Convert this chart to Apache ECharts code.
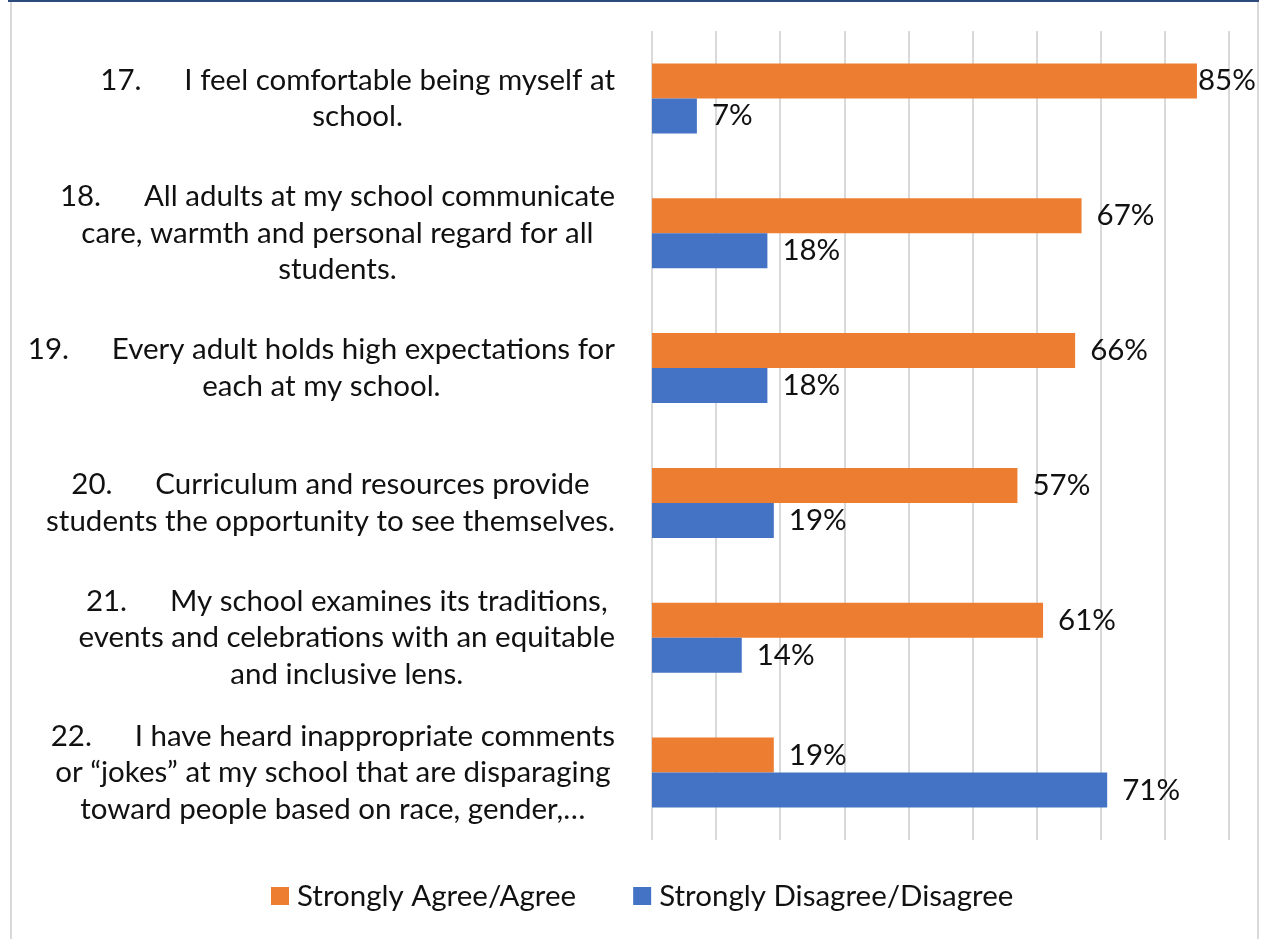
<!DOCTYPE html>
<html>
<head>
<meta charset="utf-8">
<script src="https://cdn.jsdelivr.net/npm/echarts@6/dist/echarts.min.js"></script>
<style>
html,body{margin:0;padding:0;background:#fff;}
#wrap{position:relative;width:1262px;height:939px;overflow:hidden;}
#chart{position:absolute;left:0;top:0;width:1262px;height:939px;}
.b{position:absolute;}
</style>
</head>
<body>
<div id="wrap">
<div id="chart"></div>
<div class="b" style="left:10px;top:0;width:2px;height:939px;background:#d9d9d9;"></div>
<div class="b" style="left:1257px;top:0;width:2px;height:939px;background:#d9d9d9;"></div>
<div class="b" style="left:8px;top:0;width:1251px;height:2px;background:#2f4b7c;"></div>
</div>
<script>
const categories = [
  "17.\tI feel comfortable being myself at\nschool.",
  "18.\tAll adults at my school communicate\ncare, warmth and personal regard for all\nstudents.",
  "19.\tEvery adult holds high expectations for\neach at my school.",
  "20.\tCurriculum and resources provide\nstudents the opportunity to see themselves.",
  "21.\tMy school examines its traditions,\nevents and celebrations with an equitable\nand inclusive lens.",
  "22.\tI have heard inappropriate comments\nor \u201cjokes\u201d at my school that are disparaging\ntoward people based on race, gender,\u2026"
];
const seriesNames = ["Strongly Agree/Agree", "Strongly Disagree/Disagree"];
const agree = [85, 67, 66, 57, 61, 19];
const disagree = [7, 18, 18, 19, 14, 71];

const FONT = "Lato";
const FS = 29.5;
const TAB = 84;

const mctx = document.createElement('canvas').getContext('2d');
mctx.font = FS + 'px ' + FONT;
const numPad = Math.max(0, TAB - mctx.measureText('17.').width);

function labelData(vals) {
  return vals.map(v => ({
    value: v,
    label: v >= 80 ? { distance: 1 } : {}
  }));
}

function fmtCat(v) {
  return v.split('\n').map(l => {
    const parts = l.split('\t');
    if (parts.length === 2) return '{n|' + parts[0] + '}{c|' + parts[1] + '}';
    return '{c|' + l + '}';
  }).join('\n');
}

const chart = echarts.init(document.getElementById('chart'), null, { renderer: 'canvas' });
chart.setOption({
  animation: false,
  backgroundColor: 'transparent',
  color: ['#ED7D31', '#4472C4'],
  grid: { left: 652, right: 33, top: 31, bottom: 99, containLabel: false },
  xAxis: {
    type: 'value', min: 0, max: 90, interval: 10,
    axisLabel: { show: false }, axisLine: { show: false }, axisTick: { show: false },
    splitLine: { show: true, lineStyle: { color: '#d9d9d9', width: 2 } }
  },
  yAxis: {
    type: 'category', data: categories, inverse: true,
    axisLine: { show: false }, axisTick: { show: false },
    axisLabel: {
      margin: 37, align: 'right', color: '#111',
      fontFamily: FONT, fontSize: FS, lineHeight: 36.5,
      formatter: fmtCat,
      rich: {
        c: { align: 'center', fontFamily: FONT, fontSize: FS, lineHeight: 36.5, color: '#111' },
        n: { align: 'center', fontFamily: FONT, fontSize: FS, lineHeight: 36.5, color: '#111', padding: [0, numPad, 0, 0] }
      }
    }
  },
  legend: {
    left: 271, top: 881, padding: 0,
    itemWidth: 18, itemHeight: 18, itemGap: 57, icon: 'rect',
    textStyle: { fontFamily: FONT, fontSize: FS, color: '#111', padding: [0, 0, 0, 3] },
    data: seriesNames
  },
  series: [
    {
      name: seriesNames[0], type: 'bar', data: labelData(agree),
      barWidth: 35, barGap: '0%',
      label: { show: true, position: 'right', distance: 15, formatter: '{c}%', fontFamily: FONT, fontSize: FS, color: '#111' }
    },
    {
      name: seriesNames[1], type: 'bar', data: labelData(disagree),
      barWidth: 35, barGap: '0%',
      label: { show: true, position: 'right', distance: 15, formatter: '{c}%', fontFamily: FONT, fontSize: FS, color: '#111' }
    }
  ]
});
</script>
</body>
</html>
